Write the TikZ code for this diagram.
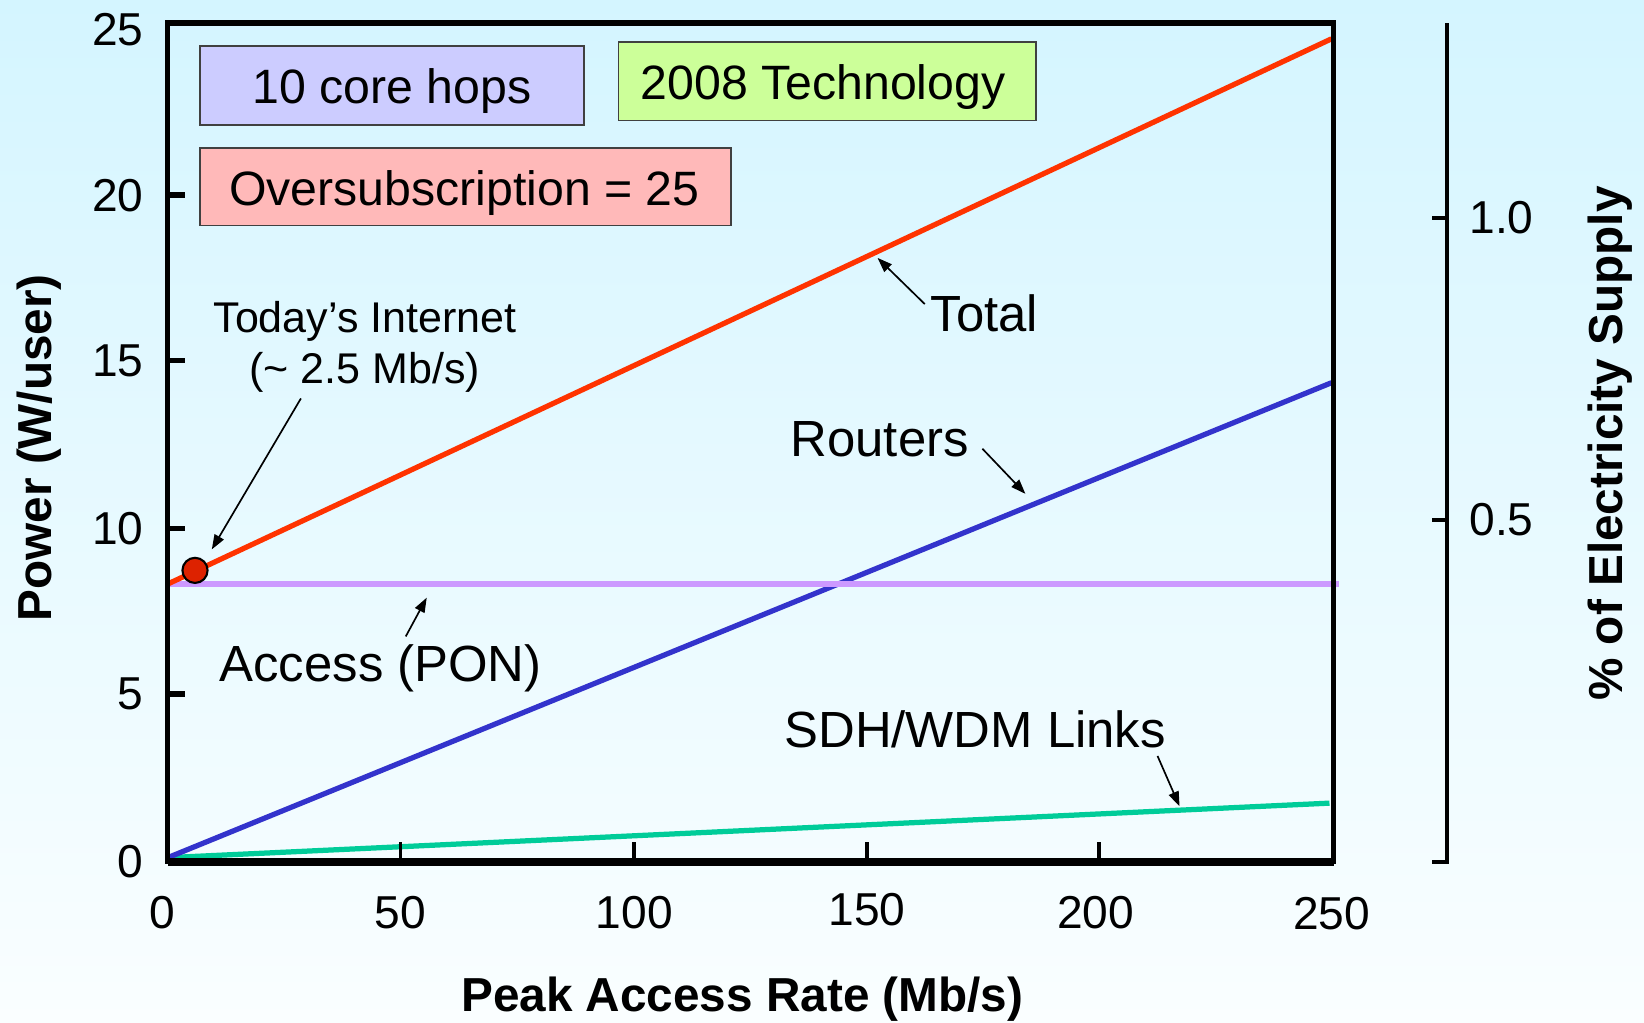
\documentclass[tikz,border=0pt]{standalone}
\usepackage{fontspec}
\setmainfont{Liberation Sans}
\usetikzlibrary{arrows.meta}
\definecolor{bgtop}{RGB}{212,245,255}
\definecolor{bgbot}{RGB}{250,254,255}
\definecolor{totalc}{RGB}{255,51,0}
\definecolor{routc}{RGB}{51,51,204}
\definecolor{accc}{RGB}{204,153,255}
\definecolor{sdhc}{RGB}{0,204,153}
\definecolor{dotc}{RGB}{221,34,0}
\definecolor{boxblue}{RGB}{204,204,255}
\definecolor{boxgreen}{RGB}{204,255,153}
\definecolor{boxpink}{RGB}{255,185,185}
\tikzset{
  txt/.style={inner sep=0pt, font=\fontsize{46}{52}\selectfont},
  ann/.style={inner sep=0pt, font=\fontsize{48.5}{54}\selectfont},
  small/.style={inner sep=0pt, font=\fontsize{41}{46}\selectfont},
  ticklbl/.style={inner sep=0pt, font=\fontsize{44}{50}\selectfont},
  axtitle/.style={inner sep=0pt, font=\bfseries\fontsize{45.5}{50}\selectfont},
  infobox/.style={draw=black!75, line width=1.5pt, inner sep=0pt},
  curve/.style={line width=5pt},
  axisline/.style={line width=5pt},
  pointer/.style={line width=1.6pt, -{Triangle[length=14pt,width=10pt]}}
}
\begin{document}
\begin{tikzpicture}[x=1pt,y=-1pt]
\fill[top color=bgtop,bottom color=bgbot] (0,0) rectangle (1568,975);
\useasboundingbox (0,0) rectangle (1568,975);

% curve end points
\coordinate (s0) at (160,818); \coordinate (s1) at (1268,766);
\coordinate (r0) at (160,818); \coordinate (r1) at (1270,365);
\coordinate (a0) at (160,557); \coordinate (a1) at (1277,557);
\coordinate (t0) at (160,557); \coordinate (t1) at (1270,37);

\draw[curve,sdhc] (s0) -- (s1);
\draw[curve,routc] (r0) -- (r1);
\draw[curve,accc] (a0) -- (a1);
\draw[curve,totalc] (t0) -- (t1);

% frame
\coordinate (fbl) at (160,822); \coordinate (ftr) at (1272,22);
\draw[axisline, line cap=rect] (fbl) rectangle (ftr);
\draw[line width=7pt] (160,822) -- (1272,822);

% y ticks
\foreach \yy in {186,344,504,662} \draw[axisline] (160,\yy) -- (176,\yy);
% x ticks
\foreach \xx in {382,605,827,1048} \draw[line width=3.5pt] (\xx,822) -- (\xx,803);

% y tick labels
\node[ticklbl,anchor=east] (y25) at (137,28) {25};
\node[ticklbl,anchor=east] (y20) at (137,187) {20};
\node[ticklbl,anchor=east] (y15) at (137,344) {15};
\node[ticklbl,anchor=east] (y10) at (137,504) {10};
\node[ticklbl,anchor=east] (y5) at (137,662) {5};
\node[ticklbl,anchor=east] (y0) at (137,822) {0};
% x tick labels
\node[ticklbl] (x0) at (155,870) {0};
\node[ticklbl] (x50) at (382,870) {50};
\node[ticklbl] (x100) at (605,870) {100};
\node[ticklbl] (x150) at (827,868) {150};
\node[ticklbl] (x200) at (1045,870) {200};
\node[ticklbl] (x250) at (1270,871) {250};

% axis titles
\node[axtitle,anchor=base] (xtitle) at (708,965) {Peak Access Rate (Mb/s)};
\node[axtitle,rotate=90] (ytitle) at (37,427) {Power (W/user)};

% right axis
\draw[line width=4pt] (1366,208) -- (1380,208);
\draw[line width=4pt] (1366,496) -- (1380,496);
\draw[line width=4pt] (1380,22) -- (1380,822) -- (1366,822);
\node[ticklbl] (r10) at (1432,208) {1.0};
\node[ticklbl] (r05) at (1432,496) {0.5};
\node[axtitle,rotate=90] (rtitle) at (1536,423) {\% of Electricity Supply};

% info boxes
\node[infobox,fill=boxblue,minimum width=366pt,minimum height=75pt] (core) at (374,81.5) {};
\node[txt,anchor=base] (coretxt) at (374,99) {10 core hops};
\node[infobox,fill=boxgreen,minimum width=398pt,minimum height=75pt] (tech) at (789,77.5) {};
\node[txt,anchor=base] (techtxt) at (785,95) {2008 Technology};
\node[infobox,fill=boxpink,minimum width=506pt,minimum height=74pt] (over) at (444,178) {};
\node[txt,anchor=base] (overtxt) at (443,196) {Oversubscription = 25};

% today's internet point
\node[circle,draw=black,line width=2pt,fill=dotc,minimum size=24pt,inner sep=0pt] (today) at (186,544) {};

% labels
\node[small,anchor=base] (todaylbl) at (348,317) {Today’s Internet};
\node[small,anchor=base] (todayrate) at (348,366) {(\char"007E\ 2.5 Mb/s)};
\node[ann,anchor=base] (totallbl) at (939,316) {Total};
\node[ann,anchor=base] (routlbl) at (839,435) {Routers};
\node[ann,anchor=base] (acclbl) at (363,650) {Access (PON)};
\node[ann,anchor=base] (sdhlbl) at (930,713) {SDH/WDM Links};

% pointer arrows
\coordinate (pa1) at (287,380); \coordinate (pa2) at (202,524);
\coordinate (pb1) at (387,607); \coordinate (pb2) at (407,570);
\coordinate (pc1) at (882,290); \coordinate (pc2) at (837,246);
\coordinate (pd1) at (937,428); \coordinate (pd2) at (978,471);
\coordinate (pe1) at (1104,721); \coordinate (pe2) at (1125,769);
\draw[pointer] (pa1) -- (pa2);
\draw[pointer] (pb1) -- (pb2);
\draw[pointer] (pc1) -- (pc2);
\draw[pointer] (pd1) -- (pd2);
\draw[pointer] (pe1) -- (pe2);
\end{tikzpicture}
\end{document}
